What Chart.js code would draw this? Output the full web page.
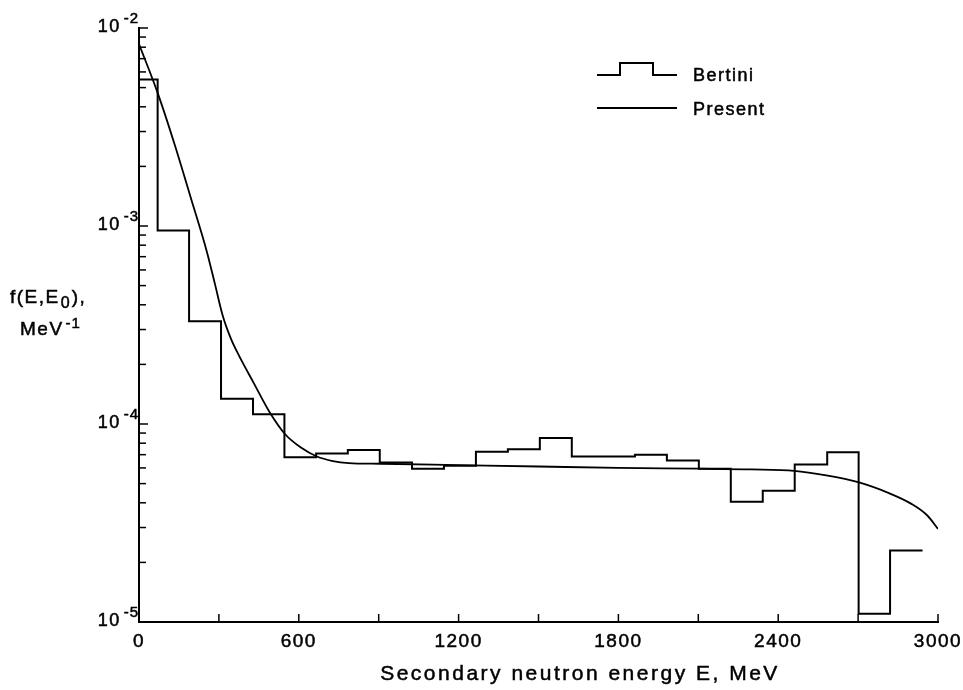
<!DOCTYPE html>
<html>
<head>
<meta charset="utf-8">
<script src="https://cdn.jsdelivr.net/npm/chart.js@4.4.1/dist/chart.umd.min.js"></script>
<style>
  html, body { margin: 0; padding: 0; background: #fff; }
</style>
</head>
<body>
<canvas id="chart" width="963" height="690"></canvas>
<script>
// Bertini histogram: bin edges (MeV) and value per bin (MeV^-1)
const binEdges = [0, 70, 188, 308, 428, 546, 665, 784, 904, 1025, 1145, 1265, 1385,
  1505, 1625, 1745, 1862, 1982, 2102, 2222, 2342, 2462, 2584, 2702, 2820, 2942];
const bertiniValues = [5.5e-3, 9.5e-4, 3.3e-4, 1.34e-4, 1.12e-4, 6.8e-5, 7.1e-5, 7.4e-5,
  6.4e-5, 5.95e-5, 6.15e-5, 7.25e-5, 7.45e-5, 8.5e-5, 6.85e-5, 6.85e-5, 7.0e-5, 6.55e-5,
  5.95e-5, 4.05e-5, 4.6e-5, 6.25e-5, 7.2e-5, 1.1e-5, 2.3e-5];

// Present model curve
const presentEnergy = [0, 70, 135, 195, 255, 285, 315, 345, 375, 432, 490, 548, 608, 668,
  728, 788, 905, 1200, 1500, 1800, 2100, 2300, 2460, 2580, 2700, 2820, 2900, 2960, 3000];
const presentValues = [8.3e-3, 4.7e-3, 2.55e-3, 1.38e-3, 7.4e-4, 5.1e-4, 3.5e-4, 2.7e-4,
  2.22e-4, 1.6e-4, 1.15e-4, 8.9e-5, 7.6e-5, 6.85e-5, 6.5e-5, 6.35e-5, 6.3e-5, 6.2e-5,
  6.1e-5, 6.0e-5, 5.95e-5, 5.9e-5, 5.8e-5, 5.5e-5, 5.08e-5, 4.45e-5, 3.95e-5, 3.45e-5, 2.95e-5];

const xTickLabels = [0, 600, 1200, 1800, 2400, 3000];
const xMinorTicks = [300, 900, 1500, 2100, 2700];
const yDecades = [-5, -4, -3, -2];

const FONT = '"Liberation Sans", Arial, Helvetica, sans-serif';

// step points: horizontal at each bin value up to the next edge
const bertiniPoints = bertiniValues.map((v, i) => ({ x: binEdges[i], y: v }));
bertiniPoints.push({ x: binEdges[binEdges.length - 1], y: bertiniValues[bertiniValues.length - 1] });
const presentPoints = presentEnergy.map((e, i) => ({ x: e, y: presentValues[i] }));

function text(ctx, s, x, y, size, align, spacing) {
  ctx.font = size + 'px ' + FONT;
  ctx.letterSpacing = (spacing || 0) + 'px';
  ctx.textAlign = align || 'left';
  ctx.textBaseline = 'alphabetic';
  ctx.fillText(s, x, y);
  // scanned print looks a bit heavier
  ctx.lineWidth = 0.5;
  ctx.strokeText(s, x, y);
  return ctx.measureText(s).width;
}

const decorPlugin = {
  id: 'decor',
  afterDraw(chart) {
    const ctx = chart.ctx;
    const xs = chart.scales.x, ys = chart.scales.y;
    const area = chart.chartArea;
    ctx.save();
    ctx.strokeStyle = '#000';
    ctx.fillStyle = '#000';

    // inward x ticks
    ctx.lineWidth = 1.5;
    xTickLabels.concat(xMinorTicks).forEach(v => {
      const px = xs.getPixelForValue(v);
      ctx.beginPath();
      ctx.moveTo(px, area.bottom);
      ctx.lineTo(px, area.bottom - 8);
      ctx.stroke();
    });

    // inward y ticks (log)
    yDecades.forEach((d, i) => {
      for (let m = 1; m <= 9; m++) {
        if (m > 1 && i === yDecades.length - 1) break;
        const py = ys.getPixelForValue(m * Math.pow(10, d));
        ctx.beginPath();
        ctx.moveTo(area.left, py);
        ctx.lineTo(area.left + (m === 1 ? 9 : 7), py);
        ctx.stroke();
      }
    });

    xTickLabels.forEach(v => {
      text(ctx, String(v), xs.getPixelForValue(v), area.bottom + 25, 19, 'center', 1.5);
    });
    yDecades.forEach(d => {
      const py = ys.getPixelForValue(Math.pow(10, d));
      const w = text(ctx, '-' + (-d), 139, py - 5.5, 15, 'right', 1);
      text(ctx, '10', 139 - w - 3, py + 4, 18, 'right', 1.5);
    });

    // axis titles
    text(ctx, 'Secondary neutron energy E, MeV', 580, 680, 21, 'center', 2.5);
    let x = 10;
    x += text(ctx, 'f(E,E', x, 303, 19, 'left', 1.5);
    x += text(ctx, '0', x + 1, 308, 16, 'left', 1) + 2;
    text(ctx, '),', x, 303, 19, 'left', 1.5);
    x = 20;
    x += text(ctx, 'MeV', x, 335, 19, 'left', 1.5);
    text(ctx, '-1', x + 2, 328, 15, 'left', 1);

    // legend
    ctx.lineWidth = 2;
    ctx.beginPath();
    ctx.moveTo(597, 75);
    ctx.lineTo(620, 75);
    ctx.lineTo(620, 63);
    ctx.lineTo(653, 63);
    ctx.lineTo(653, 75);
    ctx.lineTo(677, 75);
    ctx.stroke();
    ctx.beginPath();
    ctx.moveTo(597, 108);
    ctx.lineTo(677, 108);
    ctx.stroke();
    text(ctx, 'Bertini', 693, 81, 18, 'left', 1.5);
    text(ctx, 'Present', 693, 115, 18, 'left', 1.5);
    ctx.restore();
  }
};

new Chart(document.getElementById('chart'), {
  type: 'line',
  data: {
    datasets: [
      {
        label: 'Bertini',
        data: bertiniPoints,
        stepped: 'before',
        borderColor: '#000',
        borderWidth: 2,
        pointRadius: 0,
        fill: false
      },
      {
        label: 'Present',
        data: presentPoints,
        borderColor: '#000',
        borderWidth: 1.8,
        pointRadius: 0,
        cubicInterpolationMode: 'monotone',
        fill: false
      }
    ]
  },
  options: {
    responsive: false,
    animation: false,
    layout: { padding: { left: 139, right: 25, top: 28, bottom: 68 } },
    plugins: { legend: { display: false }, tooltip: { enabled: false } },
    scales: {
      x: {
        type: 'linear', min: 0, max: 3000,
        ticks: { display: false },
        grid: { display: false, drawTicks: false },
        border: { display: true, color: '#000', width: 2 }
      },
      y: {
        type: 'logarithmic', min: 1e-5, max: 1e-2,
        ticks: { display: false },
        grid: { display: false, drawTicks: false },
        border: { display: true, color: '#000', width: 2 }
      }
    }
  },
  plugins: [decorPlugin]
});
</script>
</body>
</html>
